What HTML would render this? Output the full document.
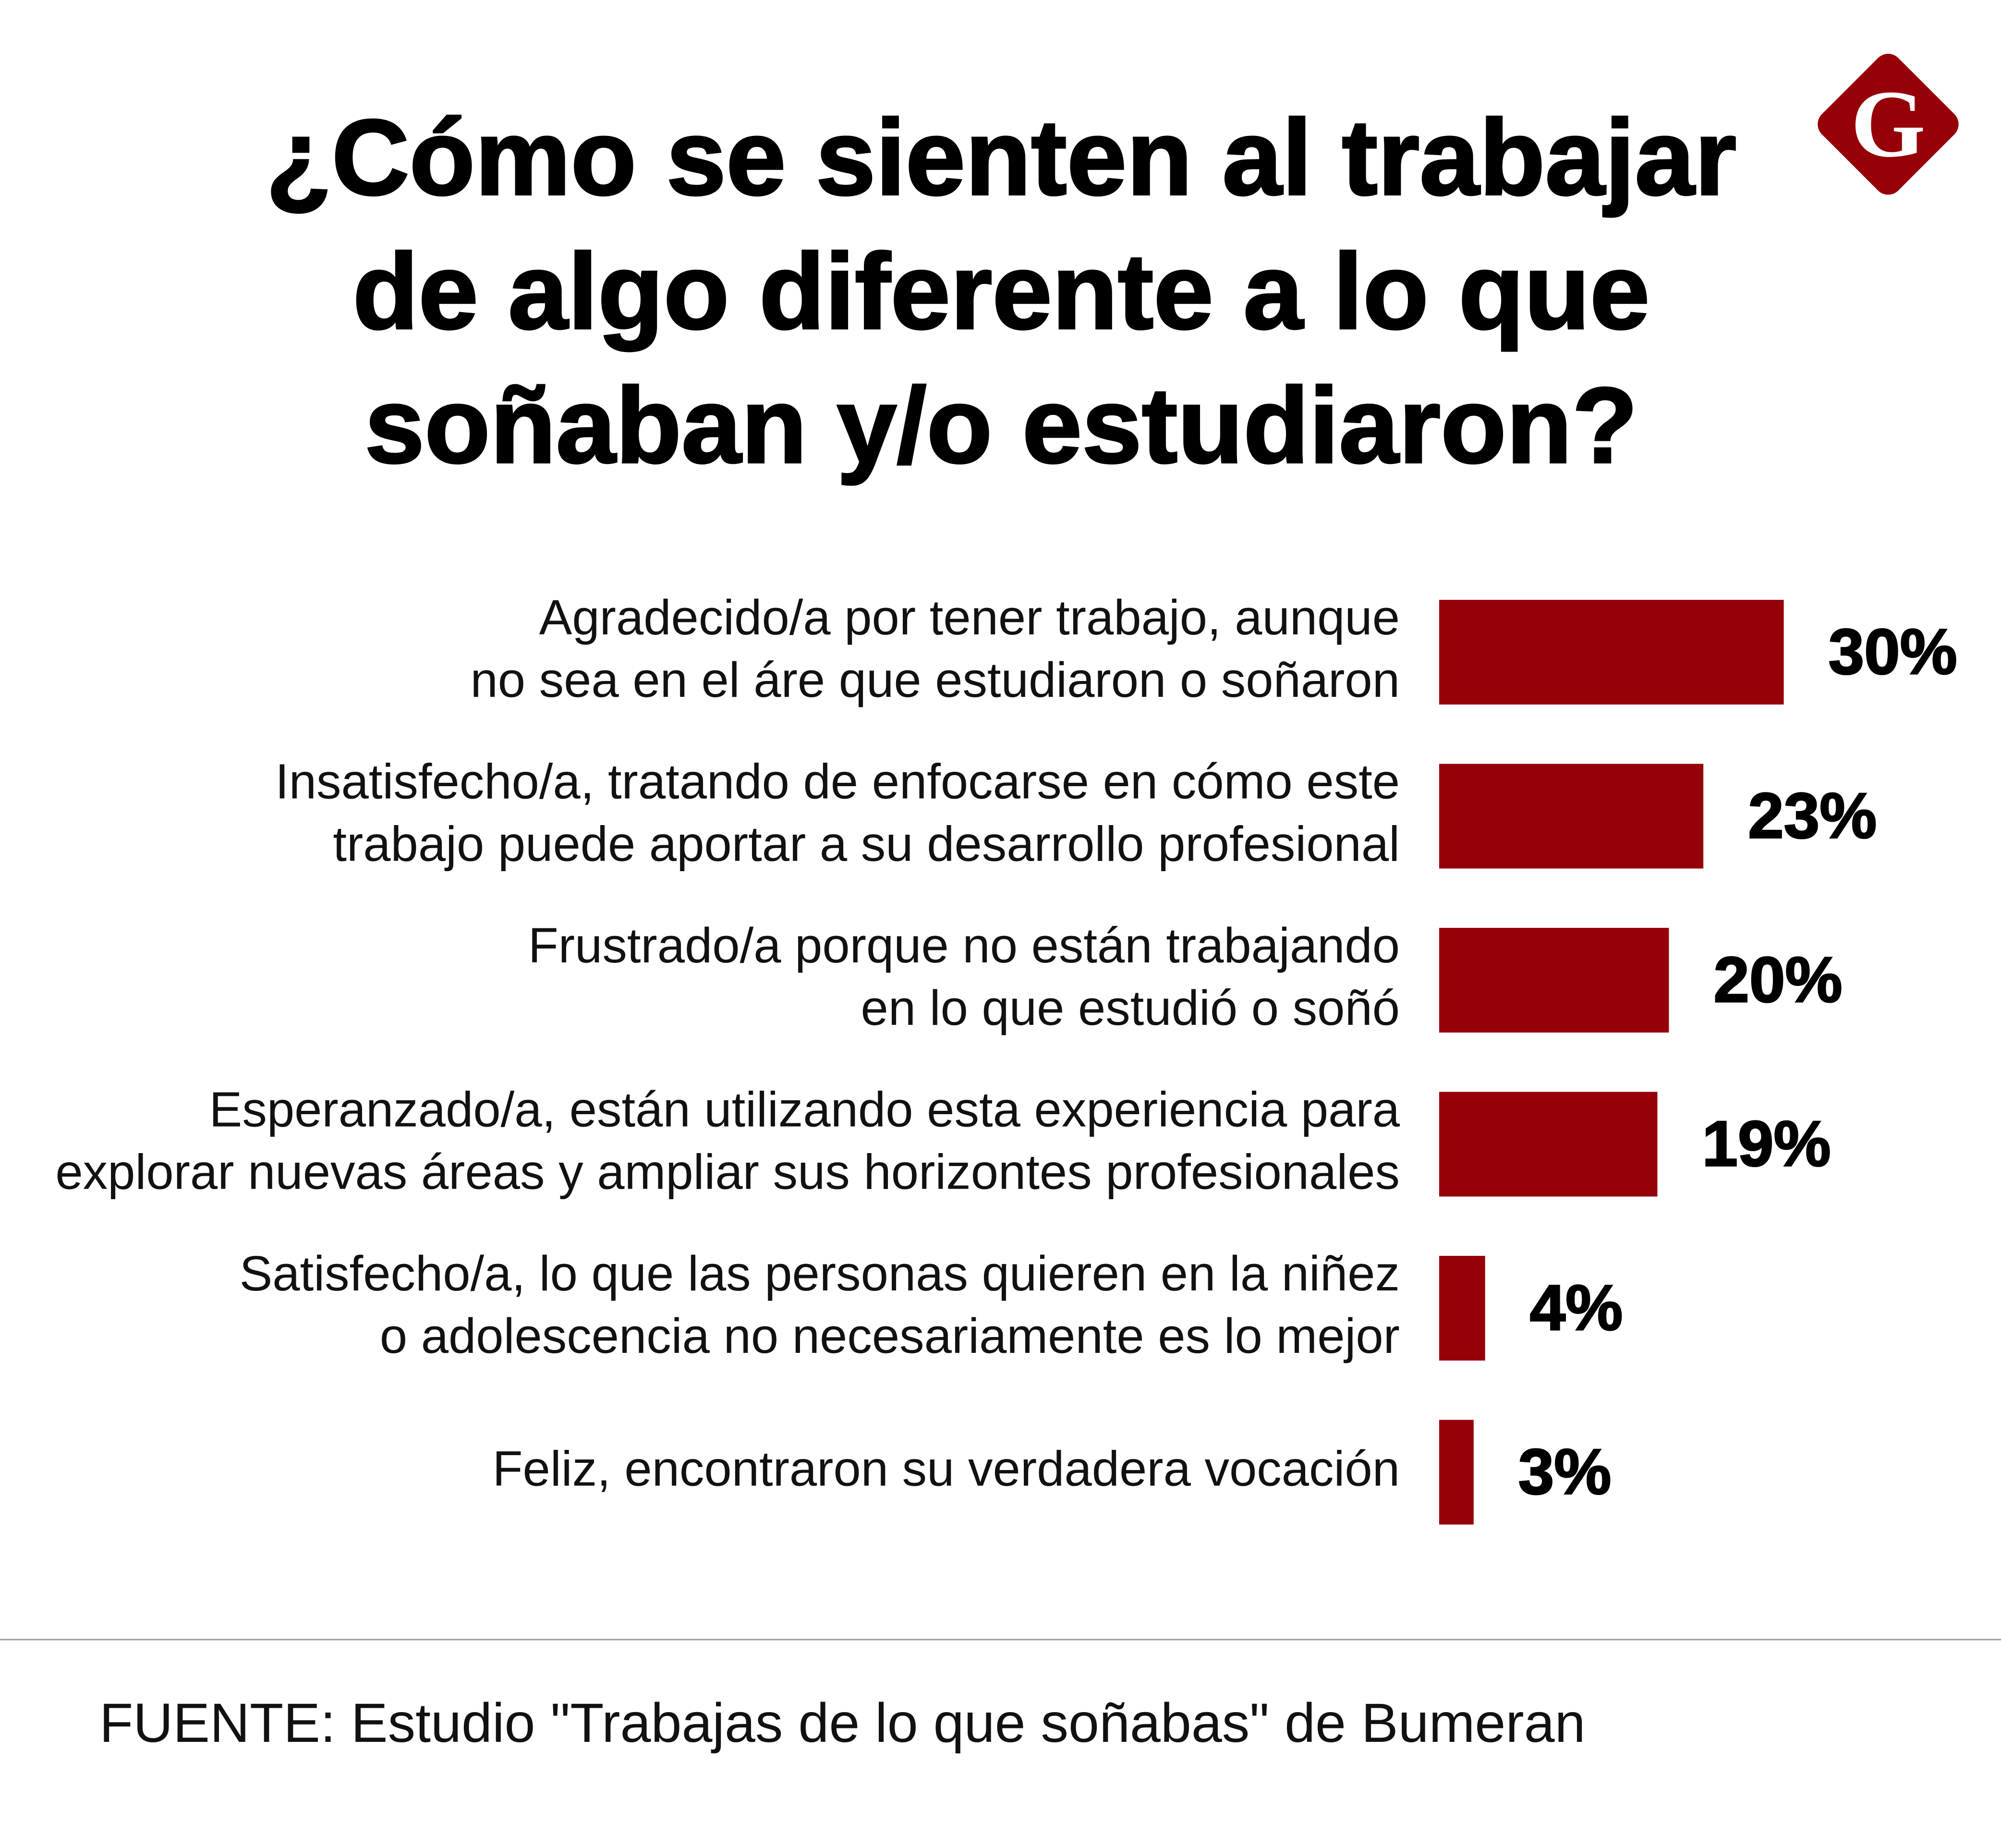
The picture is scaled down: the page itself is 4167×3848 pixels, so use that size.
<!DOCTYPE html>
<html><head><meta charset="utf-8">
<style>
html,body{margin:0;padding:0;background:#fff;}
svg{display:block;}
</style></head>
<body>
<svg id="chart" width="4167" height="3848" viewBox="0 0 4167 3848" xmlns="http://www.w3.org/2000/svg">
<rect width="4167" height="3848" fill="#fff"/>
<g font-family="Liberation Sans, sans-serif" font-weight="bold" font-size="224" text-anchor="middle" fill="#000" stroke="#000" stroke-width="4">
<text x="2085" y="405">¿Cómo se sienten al trabajar</text>
<text x="2085" y="684">de algo diferente a lo que</text>
<text x="2085" y="963">soñaban y/o estudiaron?</text>
</g>
<g>
<rect x="3820" y="146" width="225" height="225" rx="30" fill="#960008" transform="rotate(45 3932 258)"/>
<text x="3932" y="325" text-anchor="middle" font-family="Liberation Serif, serif" font-weight="bold" font-size="200" fill="#fff">G</text>
</g>
<g id="bars"></g>
<line x1="0" y1="3414" x2="4167" y2="3414" stroke="#999" stroke-width="3"/>
<text x="207" y="3627" font-family="Liberation Sans, sans-serif" font-size="115" fill="#111">FUENTE: Estudio "Trabajas de lo que soñabas" de Bumeran</text>
</svg>
<script>
const categories = [
 ["Agradecido/a por tener trabajo, aunque","no sea en el áre que estudiaron o soñaron"],
 ["Insatisfecho/a, tratando de enfocarse en cómo este","trabajo puede aportar a su desarrollo profesional"],
 ["Frustrado/a porque no están trabajando","en lo que estudió o soñó"],
 ["Esperanzado/a, están utilizando esta experiencia para","explorar nuevas áreas y ampliar sus horizontes profesionales"],
 ["Satisfecho/a, lo que las personas quieren en la niñez","o adolescencia no necesariamente es lo mejor"],
 ["Feliz, encontraron su verdadera vocación"]
];
const values = [30, 23, 20, 19, 4, 3];
const valueLabels = ["30%","23%","20%","19%","4%","3%"];

const NS = "http://www.w3.org/2000/svg";
const g = document.getElementById("bars");
const x0 = 2997, pxPer = 23.92, top0 = 1249, step = 341.5, bh = 218;
const xScale = v => v * pxPer;
const yBand = i => top0 + i * step;
values.forEach((v, i) => {
  const y = yBand(i);
  const r = document.createElementNS(NS, "rect");
  r.setAttribute("x", x0); r.setAttribute("y", y);
  r.setAttribute("width", xScale(v)); r.setAttribute("height", bh);
  r.setAttribute("fill", "#960008");
  
  
  g.appendChild(r);
  const t = document.createElementNS(NS, "text");
  t.setAttribute("x", x0 + xScale(v) + 93);
  t.setAttribute("y", y + bh / 2 + 45);
  t.setAttribute("font-family", "Liberation Sans, sans-serif");
  t.setAttribute("font-weight", "bold");
  t.setAttribute("font-size", "134");
  t.setAttribute("stroke", "#000");
  t.setAttribute("stroke-width", "3");
  t.textContent = valueLabels[i];
  
  
  g.appendChild(t);
  const lines = categories[i];
  const lh = 130;
  const mid = y + bh / 2;
  const firstBase = mid - (lines.length - 1) * lh / 2 + 28;
  lines.forEach((ln, j) => {
    const c = document.createElementNS(NS, "text");
    c.setAttribute("x", 2915);
    c.setAttribute("y", firstBase + j * lh);
    c.setAttribute("text-anchor", "end");
    c.setAttribute("font-family", "Liberation Sans, sans-serif");
    c.setAttribute("font-size", "103");
    c.setAttribute("fill", "#111");
    c.textContent = ln;
    
    
    g.appendChild(c);
  });
});
</script>
</body></html>
